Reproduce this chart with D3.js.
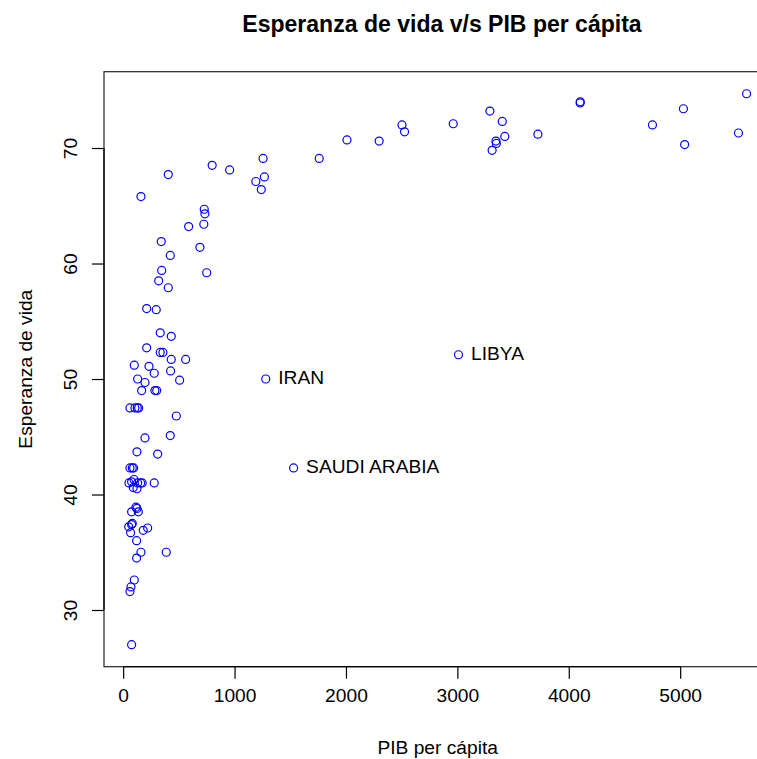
<!DOCTYPE html>
<html>
<head>
<meta charset="utf-8">
<script src="https://cdn.jsdelivr.net/npm/d3@7"></script>
<style>
  html, body { margin: 0; padding: 0; background: #fff; }
  svg { display: block; font-family: "Liberation Sans", Arial, Helvetica, sans-serif; }
</style>
</head>
<body>
<svg id="chart" width="757" height="759"></svg>
<script>
// Income per capita (US$) for each country
const income = [
  5596, 5523, 5029, 5040, 4751, 4103, 4102, 3723, 3292, 3403,
  3426, 3346, 3350, 3312, 2963, 2503, 2526, 2298, 2009, 1760,
  1256, 799, 956, 1191, 1268, 1240, 728, 734, 724, 689,
  750, 588, 342, 423, 346, 319, 405, 211, 297, 333,
  432, 211, 333, 357, 160, 405, 432, 561, 100, 232,
  279, 426, 1280, 130, 196, 507, 166, 285, 301, 61,
  106, 127, 139, 477, 196, 423, 124, 310, 61, 82,
  94, 1530, 52, 76, 97, 130, 157, 171, 279, 91,
  124, 115, 124, 76, 136, 50, 82, 76, 67, 180,
  220, 121, 160, 387, 121, 100, 70, 61, 76, 3010
];

// Life expectancy (years), same order as income
const life = [
  74.7, 71.3, 73.4, 70.3, 72.0, 74.0, 73.9, 71.2, 73.2, 72.3,
  71.0, 70.6, 70.4, 69.8, 72.1, 72.0, 71.4, 70.6, 70.7, 69.1,
  69.1, 68.5, 68.1, 67.1, 67.5, 66.4, 64.7, 64.3, 63.4, 61.4,
  59.2, 63.2, 61.9, 60.7, 59.4, 58.5, 57.9, 56.1, 56.0, 54.0,
  53.7, 52.7, 52.3, 52.3, 65.8, 67.7, 51.7, 51.7, 51.2, 51.1,
  50.5, 50.7, 50.0, 50.0, 49.7, 49.9, 49.0, 49.0, 49.0, 47.5,
  47.5, 47.5, 47.5, 46.8, 44.9, 45.1, 43.7, 43.5, 42.3, 42.3,
  42.3, 42.3, 41.0, 41.1, 41.3, 41.0, 41.0, 41.0, 41.0, 40.6,
  40.5, 38.9, 38.8, 38.5, 38.5, 37.2, 37.5, 37.4, 36.7, 36.9,
  37.1, 36.0, 35.0, 35.0, 34.5, 32.6, 32.0, 31.6, 27.0, 52.1
];

// Countries singled out with a text label
const labelNames = ["IRAN", "LIBYA", "SAUDI ARABIA"];
const labelIncome = [1280, 3010, 1530];
const labelLife = [50.0, 52.1, 42.3];

const xTicks = [0, 1000, 2000, 3000, 4000, 5000];
const yTicks = [30, 40, 50, 60, 70];

const titleText = "Esperanza de vida v/s PIB per cápita";
const xLabel = "PIB per cápita";
const yLabel = "Esperanza de vida";

const svg = d3.select("#chart");
const base = 19.2;

// Axis limits padded by 4% of the data range on each side
function padded(v) {
  const lo = d3.min(v), hi = d3.max(v), d = (hi - lo) * 0.04;
  return [lo - d, hi + d];
}

const plot = { left: 104, right: 771.3, top: 71.7, bottom: 666.7 };

const x = d3.scaleLinear().domain(padded(income)).range([plot.left, plot.right]);
const y = d3.scaleLinear().domain(padded(life)).range([plot.bottom, plot.top]);

// Plot frame
svg.append("rect")
  .attr("x", plot.left).attr("y", plot.top)
  .attr("width", plot.right - plot.left).attr("height", plot.bottom - plot.top)
  .attr("fill", "none").attr("stroke", "#222").attr("stroke-width", 1.2);

// Bottom axis
const xAxis = svg.append("g")
  .attr("transform", `translate(0,${plot.bottom})`)
  .call(d3.axisBottom(x).tickValues(xTicks).tickFormat(d3.format("d")).tickSizeInner(12).tickSizeOuter(0).tickPadding(10));
xAxis.select(".domain").attr("stroke", "#000").attr("stroke-width", 1.2)
  .attr("d", `M${x(xTicks[0])},0H${x(xTicks[xTicks.length - 1])}`);
xAxis.selectAll(".tick line").attr("stroke", "#000").attr("stroke-width", 1.2);
xAxis.selectAll(".tick text").attr("fill", "#000").attr("font-size", base)
  .attr("font-family", "Liberation Sans, Arial, sans-serif");

// Left axis with vertical labels
const yAxis = svg.append("g")
  .attr("transform", `translate(${plot.left},0)`)
  .call(d3.axisLeft(y).tickValues(yTicks).tickFormat(d3.format("d")).tickSizeInner(12).tickSizeOuter(0));
yAxis.select(".domain").attr("stroke", "#000").attr("stroke-width", 1.2)
  .attr("d", `M0,${y(yTicks[0])}V${y(yTicks[yTicks.length - 1])}`);
yAxis.selectAll(".tick line").attr("stroke", "#000").attr("stroke-width", 1.2);
yAxis.selectAll(".tick text")
  .attr("x", null).attr("dy", null)
  .attr("fill", "#000").attr("font-size", base)
  .attr("font-family", "Liberation Sans, Arial, sans-serif")
  .attr("text-anchor", "middle")
  .attr("transform", "translate(-26.7,0) rotate(-90)");

// Points
const pts = income.map((v, i) => ({ inc: v, life: life[i] }));
svg.append("g").selectAll("circle").data(pts).join("circle")
  .attr("cx", d => x(d.inc))
  .attr("cy", d => y(d.life))
  .attr("r", 4)
  .attr("fill", "none")
  .attr("stroke", "#0000ff")
  .attr("stroke-width", 1.2);

// Country labels to the right of their points
svg.append("g").selectAll("text").data(labelNames).join("text")
  .attr("x", (d, i) => x(labelIncome[i]) + 12.5)
  .attr("y", (d, i) => y(labelLife[i]) + 4.8)
  .attr("font-size", base)
  .attr("fill", "#000")
  .text(d => d);

// Titles
const cx = (plot.left + plot.right) / 2;
svg.append("text")
  .attr("x", 442).attr("y", 32)
  .attr("text-anchor", "middle")
  .attr("font-size", base * 1.2)
  .attr("font-weight", "bold")
  .text(titleText);

svg.append("text")
  .attr("x", cx).attr("y", 754)
  .attr("text-anchor", "middle")
  .attr("font-size", base)
  .text(xLabel);

svg.append("text")
  .attr("transform", `translate(31.5,${(plot.top + plot.bottom) / 2}) rotate(-90)`)
  .attr("text-anchor", "middle")
  .attr("font-size", base)
  .text(yLabel);
</script>
</body>
</html>
